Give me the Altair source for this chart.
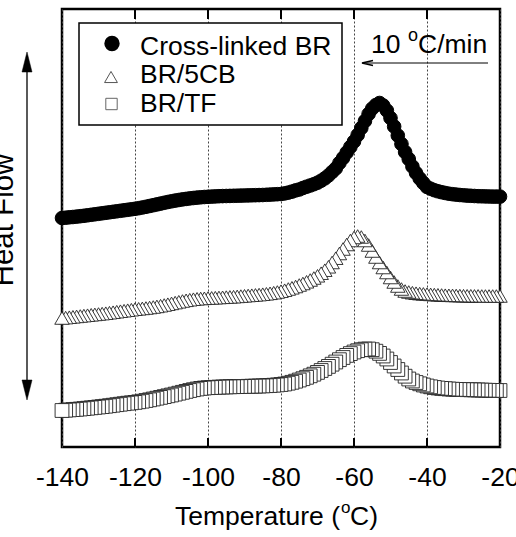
import altair as alt
import pandas as pd

# ---------------- data (heat flow in arbitrary units) ----------------
TEMPS = list(range(-140, -19))  # measured temperature grid, 1 degC steps

CROSSLINKED_BR = [
    229.0, 229.3, 229.7, 230.0, 230.4, 230.8, 231.2, 231.7, 232.2, 232.7,
    233.2, 233.7, 234.2, 234.7, 235.2, 235.7, 236.2, 236.7, 237.2, 237.7,
    238.2, 238.8, 239.5, 240.2, 241.0, 241.8, 242.6, 243.4, 244.2, 245.0,
    245.7, 246.4, 247.0, 247.6, 248.1, 248.6, 249.0, 249.4, 249.7, 250.0,
    250.2, 250.4, 250.6, 250.8, 250.9, 251.0, 251.1, 251.2, 251.3, 251.4,
    251.5, 251.6, 251.7, 251.8, 251.9, 252.0, 252.2, 252.4, 252.6, 252.8,
    253.0, 253.6, 254.4, 255.4, 256.6, 257.5, 259.0, 260.3, 261.5, 262.8,
    264.3, 266.3, 268.6, 271.5, 275.0, 278.5, 284.0, 289.0, 294.5, 300.0,
    305.5, 312.0, 319.0, 326.0, 333.0, 338.5, 342.0, 344.0, 341.5, 336.5,
    329.0, 320.5, 311.5, 303.0, 295.0, 288.0, 280.5, 274.0, 268.5, 264.0,
    260.0, 258.3, 256.8, 255.7, 254.8, 254.0, 253.3, 252.8, 252.4, 252.0,
    251.7, 251.4, 251.2, 251.0, 250.8, 250.7, 250.6, 250.5, 250.4, 250.4,
    250.4,
]

BR_5CB = [
    129.0, 129.4, 129.8, 130.2, 130.6, 131.0, 131.4, 131.8, 132.2, 132.6,
    133.0, 133.4, 133.8, 134.3, 134.8, 135.3, 135.8, 136.3, 136.8, 137.3,
    137.8, 138.2, 138.6, 139.0, 139.5, 140.0, 140.6, 141.3, 142.0, 142.8,
    143.6, 144.4, 145.2, 146.0, 146.7, 147.3, 147.8, 148.2, 148.5, 148.7,
    148.9, 149.1, 149.3, 149.5, 149.7, 149.9, 150.1, 150.3, 150.6, 150.9,
    151.2, 151.5, 151.8, 152.1, 152.4, 152.8, 153.2, 153.7, 154.3, 155.0,
    155.8, 156.8, 158.0, 159.2, 160.5, 162.0, 163.5, 165.2, 167.0, 169.0,
    171.2, 173.8, 176.8, 180.2, 184.5, 188.8, 193.5, 198.0, 202.5, 206.5,
    209.5, 211.0, 210.0, 206.5, 202.0, 196.0, 190.0, 184.5, 179.5, 174.5,
    169.5, 165.0, 161.0, 158.0, 156.0, 155.0, 154.3, 153.8, 153.4, 153.1,
    152.8, 152.6, 152.4, 152.2, 152.0, 151.8, 151.7, 151.6, 151.5, 151.4,
    151.3, 151.2, 151.2, 151.1, 151.1, 151.0, 151.0, 151.0, 151.0, 151.0,
    151.0,
]

BR_TF = [
    36.5, 36.8, 37.1, 37.4, 37.7, 38.0, 38.4, 38.8, 39.2, 39.6,
    40.0, 40.4, 40.8, 41.3, 41.8, 42.3, 42.8, 43.3, 43.8, 44.2,
    44.6, 45.2, 45.8, 46.5, 47.2, 48.0, 48.8, 49.6, 50.4, 51.2,
    52.0, 52.9, 53.8, 54.7, 55.6, 56.5, 57.3, 58.0, 58.6, 59.0,
    59.3, 59.5, 59.7, 59.9, 60.0, 60.1, 60.2, 60.3, 60.4, 60.5,
    60.6, 60.7, 60.8, 60.9, 61.0, 61.1, 61.3, 61.5, 61.8, 62.1,
    62.5, 63.0, 63.8, 64.7, 65.8, 67.0, 68.3, 69.7, 71.2, 72.8,
    74.6, 76.5, 78.5, 80.6, 82.8, 85.0, 87.3, 89.5, 91.6, 93.4,
    95.0, 96.3, 97.3, 97.9, 98.0, 97.3, 95.8, 93.6, 91.0, 88.0,
    84.5, 81.0, 77.5, 74.0, 70.8, 68.0, 66.0, 64.5, 63.2, 62.0,
    61.0, 60.2, 59.5, 59.0, 58.6, 58.3, 58.0, 57.8, 57.6, 57.5,
    57.4, 57.3, 57.2, 57.1, 57.0, 56.9, 56.8, 56.7, 56.6, 56.5,
    56.5,
]

X_TICKS = [-140, -120, -100, -80, -60, -40, -20]
INNER_TICKS = [-120, -100, -80, -60, -40]
LEGEND_LABELS = ["Cross-linked BR", "BR/5CB", "BR/TF"]
X_DOMAIN = [-140, -20]
Y_DOMAIN = [0, 438]

# ---------------- chart ----------------
W, H = 438, 438
FONT = "Liberation Sans"
FS = 26.5


def series(vals):
    df = pd.DataFrame({"T": TEMPS, "h": vals})
    # cooling run: points recorded from high to low temperature
    return df.iloc[::-1].reset_index(drop=True)


xscale = alt.Scale(domain=X_DOMAIN, nice=False, zero=False)
yscale = alt.Scale(domain=Y_DOMAIN, nice=False, zero=False)
xaxis = alt.Axis(
    values=X_TICKS, title=None, grid=True, gridDash=[2, 2], gridColor="#444",
    gridWidth=1, ticks=False, domain=False, labelFontSize=FS, labelFont=FONT,
    labelColor="black", labelPadding=17, labelFlush=False, labelOverlap=False,
    labelExpr="'' + datum.value",
)


def xenc(field="T"):
    return alt.X(f"{field}:Q", scale=xscale, axis=xaxis)


def yenc():
    return alt.Y("h:Q", scale=yscale, axis=None)


one = pd.DataFrame({"a": [0]})

circles = alt.Chart(series(CROSSLINKED_BR)).mark_point(
    shape="circle", filled=True, fill="black", stroke="black", strokeWidth=1,
    size=185, opacity=1,
).encode(x=xenc(), y=yenc())

triangles = alt.Chart(series(BR_5CB)).mark_point(
    shape="triangle-up", filled=True, fill="white", stroke="#222", strokeWidth=0.9,
    size=210, opacity=1,
).encode(x=xenc(), y=yenc())

squares = alt.Chart(series(BR_TF)).mark_point(
    shape="square", filled=True, fill="white", stroke="#222", strokeWidth=0.9,
    size=190, opacity=1,
).encode(x=xenc(), y=yenc())

tick_df = pd.DataFrame({"T": INNER_TICKS})
ticks_top = alt.Chart(tick_df).mark_rule(color="black", strokeWidth=2).encode(
    x=xenc(), y=alt.value(0), y2=alt.value(10))
ticks_bot = alt.Chart(tick_df).mark_rule(color="black", strokeWidth=2).encode(
    x=xenc(), y=alt.value(H - 9), y2=alt.value(H))

# legend box
leg_box = alt.Chart(one).mark_rect(fill="white", stroke="black", strokeWidth=1.5).encode(
    x=alt.value(17), x2=alt.value(280), y=alt.value(14), y2=alt.value(116))
leg_c = alt.Chart(one).mark_point(shape="circle", filled=True, fill="black",
                                  stroke="black", size=180, opacity=1).encode(
    x=alt.value(50), y=alt.value(34.5))
leg_t = alt.Chart(one).mark_point(shape="triangle-up", filled=True, fill="white",
                                  stroke="#555", strokeWidth=1, size=165, opacity=1).encode(
    x=alt.value(49), y=alt.value(68))
leg_s = alt.Chart(one).mark_point(shape="square", filled=True, fill="white",
                                  stroke="#666", strokeWidth=1, size=130, opacity=1).encode(
    x=alt.value(49.5), y=alt.value(95))


def txt(s, x, y, size=FS, align="left", angle=None, baseline="alphabetic"):
    kw = dict(text=s, font=FONT, fontSize=size, color="black", align=align,
              baseline=baseline)
    if angle is not None:
        kw["angle"] = angle
    return alt.Chart(one).mark_text(**kw).encode(x=alt.value(x), y=alt.value(y))


leg_texts = [
    txt(LEGEND_LABELS[0], 78, 46),
    txt(LEGEND_LABELS[1], 78, 74),
    txt(LEGEND_LABELS[2], 78, 103),
]

# rate annotation
rate = [
    txt("10", 309, 44),
    txt("o", 346, 31.5, size=18),
    txt("C/min", 356, 44),
]
rate_line = alt.Chart(one).mark_rule(color="black", strokeWidth=1).encode(
    x=alt.value(301), x2=alt.value(426), y=alt.value(54))
rate_head = alt.Chart(one).mark_point(shape="M1,-0.45L-1,0L1,0.45", filled=False,
                                      stroke="black", strokeWidth=1.5,
                                      size=121, opacity=1).encode(
    x=alt.value(305.5), y=alt.value(54))

# x title with superscript o
xtitle = [
    txt("Temperature (", 278, 516, align="right"),
    txt("o", 279, 504, size=17),
    txt("C)", 288, 516),
]

# y title and double arrow
ytitle = txt("Heat Flow", -49, 211, size=29.5, angle=270, align="center")
yline = alt.Chart(one).mark_rule(color="black", strokeWidth=1.3).encode(
    x=alt.value(-35), y=alt.value(58), y2=alt.value(376))
yhead_top = alt.Chart(one).mark_point(shape="M0,-1L0.5,1L-0.5,1Z", filled=True,
                                      fill="black", stroke="black", strokeWidth=0.5,
                                      size=400, opacity=1).encode(
    x=alt.value(-35), y=alt.value(53))
yhead_bot = alt.Chart(one).mark_point(shape="M0,1L0.5,-1L-0.5,-1Z", filled=True,
                                      fill="black", stroke="black", strokeWidth=0.5,
                                      size=400, opacity=1).encode(
    x=alt.value(-35), y=alt.value(381))

chart = alt.layer(
    circles, triangles, squares, ticks_top, ticks_bot,
    leg_box, leg_c, leg_t, leg_s, *leg_texts,
    *rate, rate_line, rate_head, *xtitle, ytitle, yline, yhead_top, yhead_bot,
).properties(
    width=W, height=H,
    autosize=alt.AutoSizeParams(type="none"),
    padding={"left": 62, "top": 9, "right": 16, "bottom": 90},
).configure_view(
    stroke="black", strokeWidth=2.5
)

chart.save("out.html", embed_options={"renderer": "svg", "actions": False})
